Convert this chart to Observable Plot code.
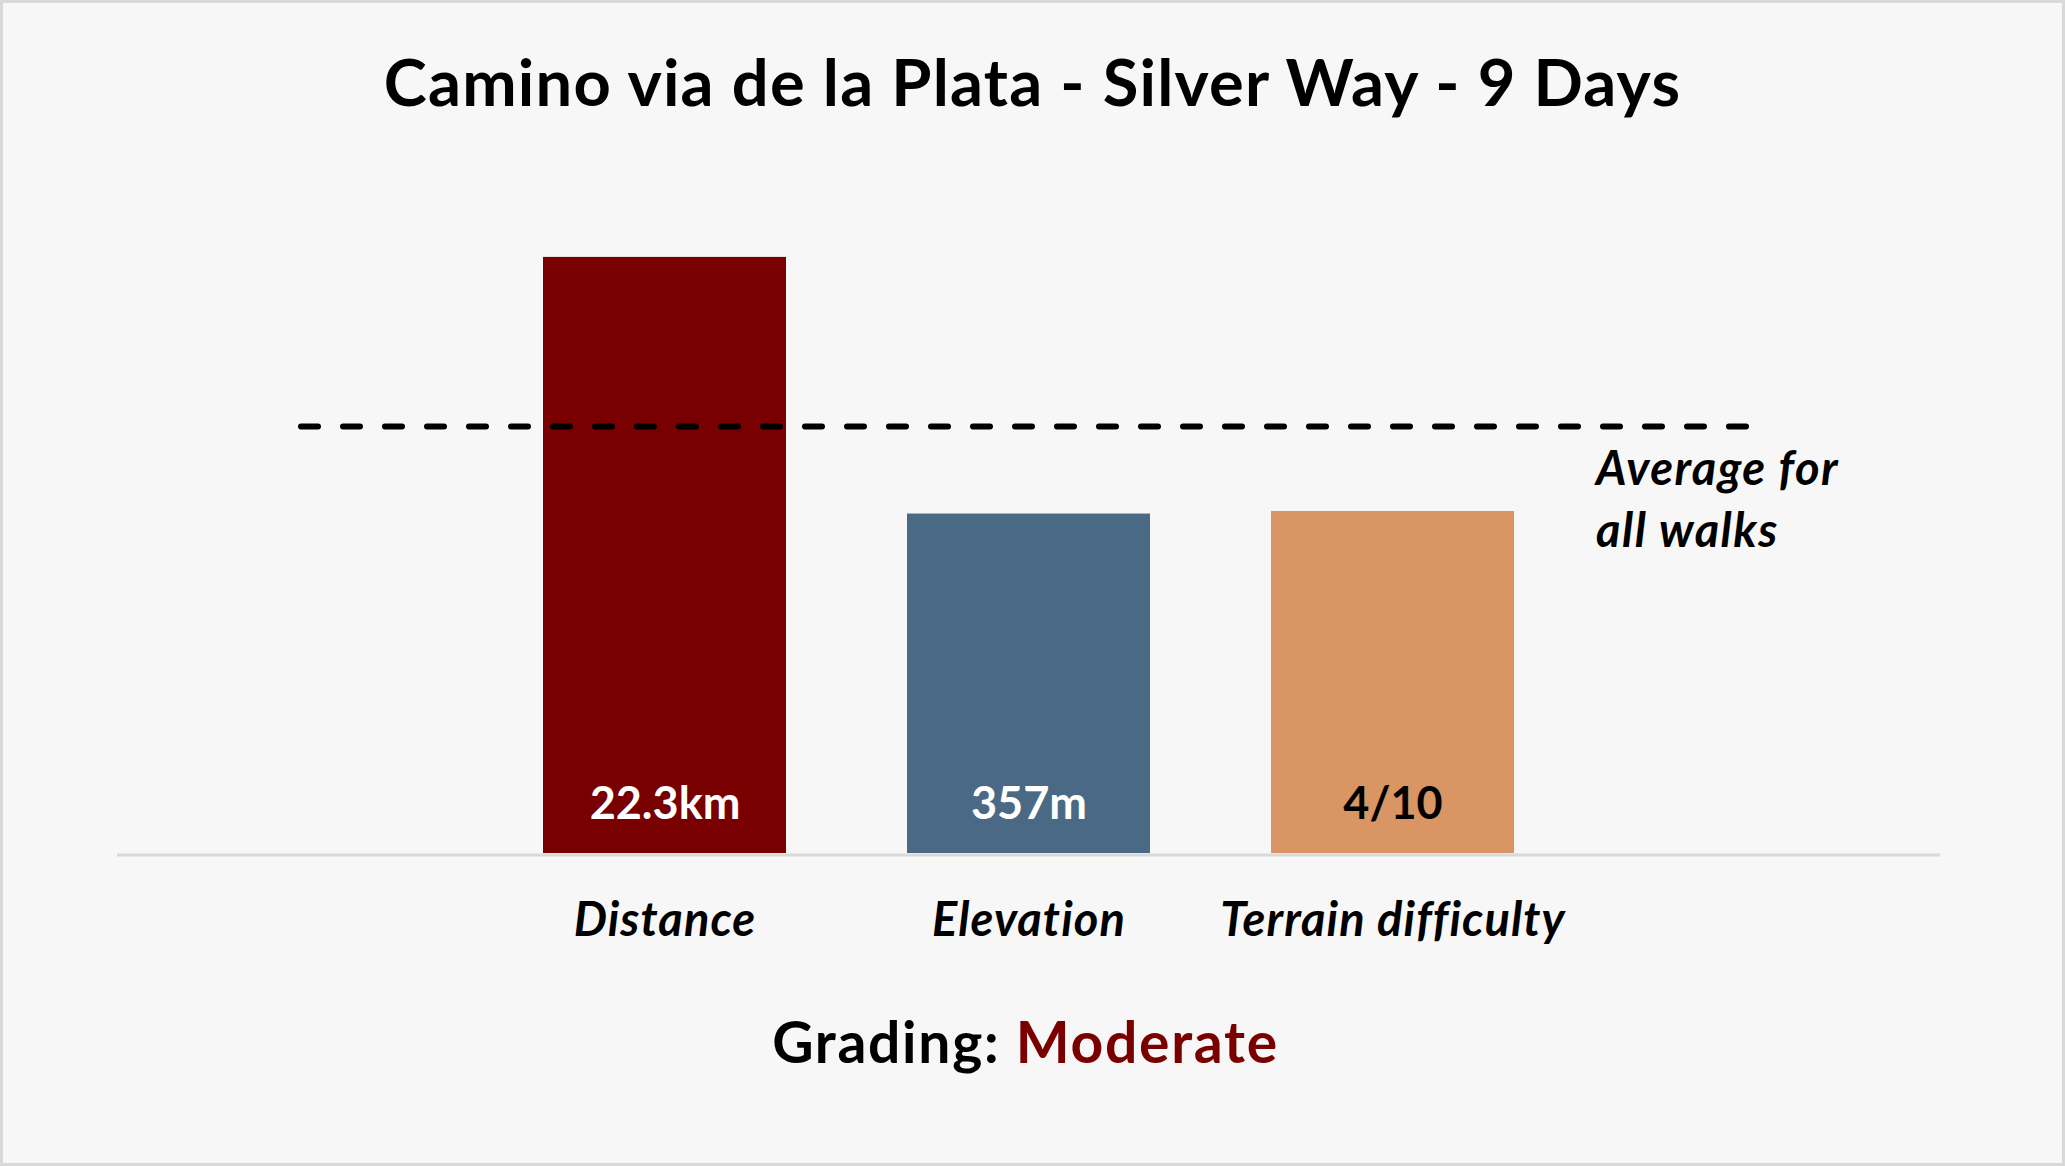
<!DOCTYPE html>
<html>
<head>
<meta charset="utf-8">
<script src="https://cdn.jsdelivr.net/npm/d3@7"></script>
<script src="https://cdn.jsdelivr.net/npm/@observablehq/plot@0.6"></script>
<style>
  html, body { margin: 0; padding: 0; background: #f7f7f7; }
  #page { position: relative; width: 2065px; height: 1166px; background: #f7f7f7; overflow: hidden; font-family: Lato, "Open Sans", sans-serif; }
  #frame { position: absolute; left: 0; top: 0; width: 2065px; height: 1166px; box-sizing: border-box; border: 3px solid #d9d9d9; pointer-events: none; }
  #title { position: absolute; left: 0; width: 2065px; top: 42px; text-align: center; font-weight: 700; font-size: 65px; line-height: 1.2; letter-spacing: 1.2px; color: #000; white-space: nowrap; }
  #chart { position: absolute; left: 0; top: 130px; }
  #caption { position: absolute; left: -7px; width: 2065px; top: 1007px; text-align: center; font-weight: 700; font-size: 57px; line-height: 1.2; letter-spacing: 1.7px; color: #000; white-space: nowrap; }
  #caption .grade { color: #7a0000; }
  #chart g[aria-label="x-axis tick label"] text { letter-spacing: 1.1px; }
</style>
</head>
<body>
<div id="page">
  <div id="title"></div>
  <div id="chart"></div>
  <div id="caption"></div>
  <div id="frame"></div>
</div>
<script>
// ---- data ----
const titleText = "Camino via de la Plata - Silver Way - 9 Days";
const gradingLabel = "Grading: ";
const gradingValue = "Moderate";
const categories = ["", "Distance", "Elevation", "Terrain difficulty", " "];
const barCategories = ["Distance", "Elevation", "Terrain difficulty"];
const relativeValues = [1.396, 0.795, 0.801];   // relative to average of all walks
const valueLabels = ["22.3km", "357m", "4/10"];
const barColors = ["#780000", "#4a6984", "#d99563"];
const labelColors = ["#ffffff", "#ffffff", "#000000"];
const averageLevel = 1;
const averageLabel = "Average for\nall walks";

// ---- build ----
document.getElementById("title").textContent = titleText;
const cap = document.getElementById("caption");
cap.append(document.createTextNode(gradingLabel));
const g = document.createElement("span");
g.className = "grade";
g.textContent = gradingValue;
cap.append(g);

const bars = barCategories.map((c, i) => ({
  category: c, value: relativeValues[i], label: valueLabels[i],
  color: barColors[i], labelColor: labelColors[i]
}));
const avgLine = categories.map(c => ({category: c, value: averageLevel}));

const chart = Plot.plot({
  width: 2065,
  height: 860,
  marginLeft: 117,
  marginRight: 125,
  marginTop: 82.5,
  marginBottom: 137,
  style: {background: "transparent", fontFamily: "Lato, 'Open Sans', sans-serif", overflow: "visible"},
  x: {domain: categories, paddingInner: 1/3, paddingOuter: 1/6, axis: null, label: null},
  y: {domain: [0, 1.5], axis: null, label: null},
  marks: [
    Plot.ruleY([0], {stroke: "#d9d9d9", strokeWidth: 3, dy: 1.5}),
    Plot.barY(bars, {x: "category", y: "value", fill: "color"}),
    Plot.text(bars, {x: "category", y: 0, text: "label", fill: "labelColor",
      dy: -49, lineAnchor: "middle", fontSize: 45, fontWeight: 700}),
    Plot.line(avgLine, {x: "category", y: "value", stroke: "#000", strokeWidth: 6,
      strokeDasharray: "17,25", strokeLinecap: "round"}),
    Plot.text([averageLabel], {x: () => " ", y: () => averageLevel, text: d => d,
      dx: -161, dy: 15, textAnchor: "start", lineAnchor: "top", lineHeight: 1.31,
      fontSize: 47, fontWeight: 700, fontStyle: "italic", fill: "#000"}),
    Plot.axisX({tickSize: 0, tickPadding: 49, fontSize: 47, fontWeight: 700,
      fontStyle: "italic", fill: "#000", tickFormat: d => d, label: null})
  ]
});
// widen the average note slightly to match the reference lettering
chart.querySelectorAll("text").forEach(t => {
  if (t.textContent.includes("Average for")) t.style.letterSpacing = "1.5px";
});
document.getElementById("chart").append(chart);
</script>
</body>
</html>
